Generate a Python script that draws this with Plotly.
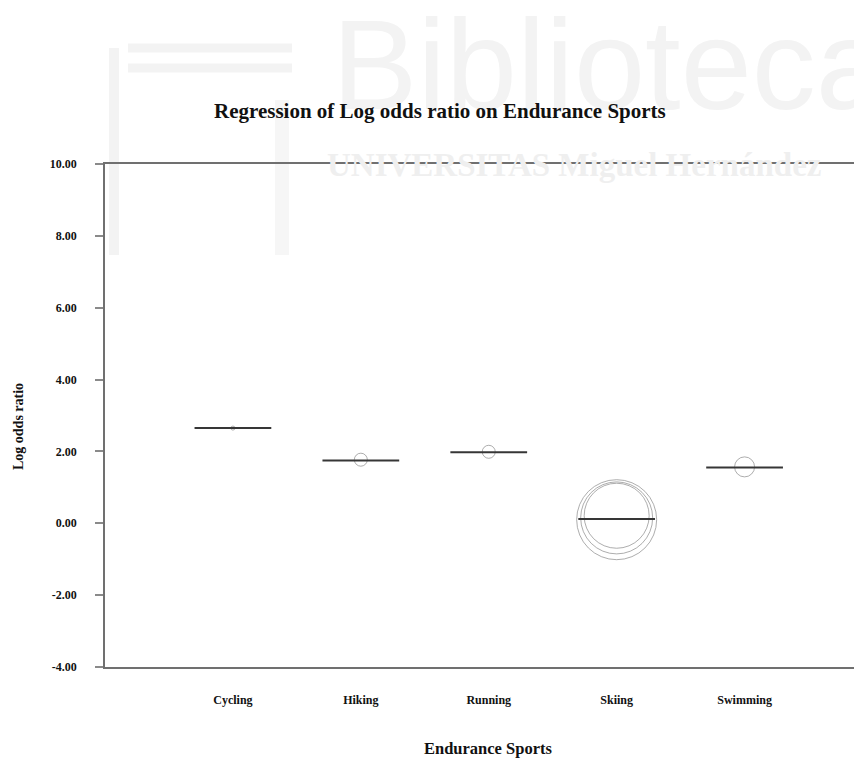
import plotly.graph_objects as go

# ---- data ----
sports = ["Cycling", "Hiking", "Running", "Skiing", "Swimming"]
sport_pos = [1, 2, 3, 4, 5]
predicted_lor = [2.65, 1.75, 1.98, 0.12, 1.55]

study_sport = ["Cycling", "Hiking", "Running", "Skiing", "Skiing", "Skiing", "Swimming"]
study_lor = [2.65, 1.77, 1.99, 0.10, 0.15, 0.21, 1.57]
study_weight = [4, 13, 13, 80, 72, 65, 20]

y_ticks = [-4, -2, 0, 2, 4, 6, 8, 10]

# ---- layout constants (page pixels; the page body has an 8px margin) ----
SERIF = "Liberation Serif, Times New Roman, serif"
BODY = 8
FIG_W, FIG_H = 862 - BODY, 759 - BODY
PL, PR, PT, PB = 105, 862, 164, 667          # plot area in page pixels
PW, PH = PR - PL, PB - PT


def px(xp, yp):
    """page pixel -> paper coordinates"""
    return (xp - PL) / PW, (PB - yp) / PH


half = 0.30
seg_x, seg_y = [], []
for p, v in zip(sport_pos, predicted_lor):
    seg_x += [p - half, p + half, None]
    seg_y += [v, v, None]

pos_of = dict(zip(sports, sport_pos))
study_x = [pos_of[s] for s in study_sport]

fig = go.Figure()
fig.add_trace(go.Scatter(
    x=study_x, y=study_lor, mode="markers",
    marker=dict(symbol="circle-open", size=study_weight, sizemode="diameter",
                color="#8a8a8a", line=dict(width=1, color="#8a8a8a")),
    hoverinfo="skip", showlegend=False))
fig.add_trace(go.Scatter(
    x=seg_x, y=seg_y, mode="lines",
    line=dict(color="#363636", width=2),
    hoverinfo="skip", showlegend=False))

# ---- faint watermark of the reference page ----
wm = "#f3f3f3"
shapes = []
for yb in (48, 68):
    x0, y0 = px(128, yb)
    x1, _ = px(292, yb)
    shapes.append(dict(type="line", xref="paper", yref="paper", x0=x0, y0=y0, x1=x1, y1=y0,
                       line=dict(color=wm, width=9), layer="below"))
fx0, fy0 = px(114, 255)
fx1, fy1 = px(114, 48)
shapes.append(dict(type="line", xref="paper", yref="paper", x0=fx0, y0=fy0, x1=fx1, y1=fy1,
                   line=dict(color=wm, width=10), layer="below"))
ix0, iy0 = px(282, 255)
ix1, iy1 = px(282, 100)
shapes.append(dict(type="line", xref="paper", yref="paper", x0=ix0, y0=iy0, x1=ix1, y1=iy1,
                   line=dict(color="#f6f6f6", width=14), layer="below"))
fig.update_layout(shapes=shapes)

bx, by = px(330, 138)
fig.add_annotation(text="Biblioteca", xref="paper", yref="paper", x=bx, y=by,
                   xanchor="left", yanchor="bottom", showarrow=False,
                   font=dict(family="Liberation Sans, Arial, sans-serif", size=128, color="#f3f3f3"))
ux, uy = px(325, 165)
fig.add_annotation(text="<b>UNIVERSITAS Miguel Hernández</b>", xref="paper", yref="paper",
                   x=ux, y=uy, xanchor="left", yanchor="middle", showarrow=False,
                   font=dict(family=SERIF, size=33, color="#efefef"))

# ---- title and axis titles ----
tx, ty = px(440, 111)
fig.add_annotation(text="<b>Regression of Log odds ratio on Endurance Sports</b>",
                   xref="paper", yref="paper", x=tx, y=ty, showarrow=False,
                   xanchor="center", yanchor="middle",
                   font=dict(family=SERIF, size=21, color="#111"))
yx, yy = px(18, 427)
fig.add_annotation(text="<b>Log odds ratio</b>", xref="paper", yref="paper",
                   x=yx, y=yy, showarrow=False, textangle=-90,
                   xanchor="center", yanchor="middle",
                   font=dict(family=SERIF, size=14, color="#111"))
xx, xy = px(488, 748)
fig.add_annotation(text="<b>Endurance Sports</b>", xref="paper", yref="paper",
                   x=xx, y=xy, showarrow=False, xanchor="center", yanchor="middle",
                   font=dict(family=SERIF, size=16.5, color="#111"))

fig.update_layout(
    width=FIG_W, height=FIG_H,
    margin=dict(l=PL - BODY, r=FIG_W - (PR - BODY), t=PT - BODY, b=FIG_H - (PB - BODY)),
    paper_bgcolor="white", plot_bgcolor="rgba(0,0,0,0)",
    showlegend=False,
    font=dict(family=SERIF, color="#111"),
)

fig.update_xaxes(
    range=[0, (PR - 104.5) / 128.0],
    tickmode="array", tickvals=sport_pos, ticktext=["<b>%s</b>" % s for s in sports],
    tickfont=dict(family=SERIF, size=12, color="#111"),
    ticks="", ticklabelstandoff=21,
    showgrid=False, zeroline=False, automargin=False,
    showline=True, linecolor="#707070", linewidth=1.5, mirror=True,
)
fig.update_yaxes(
    range=[-4, 10],
    tickmode="array", tickvals=y_ticks, ticktext=["<b>%.2f</b>" % v for v in y_ticks],
    tickfont=dict(family=SERIF, size=12, color="#111"),
    ticks="outside", ticklen=8, tickcolor="#8a8a8a", tickwidth=1.5,
    ticklabelstandoff=16,
    showgrid=False, zeroline=False, automargin=False,
    showline=True, linecolor="#707070", linewidth=1.5,
)

fig.write_html("out.html")
